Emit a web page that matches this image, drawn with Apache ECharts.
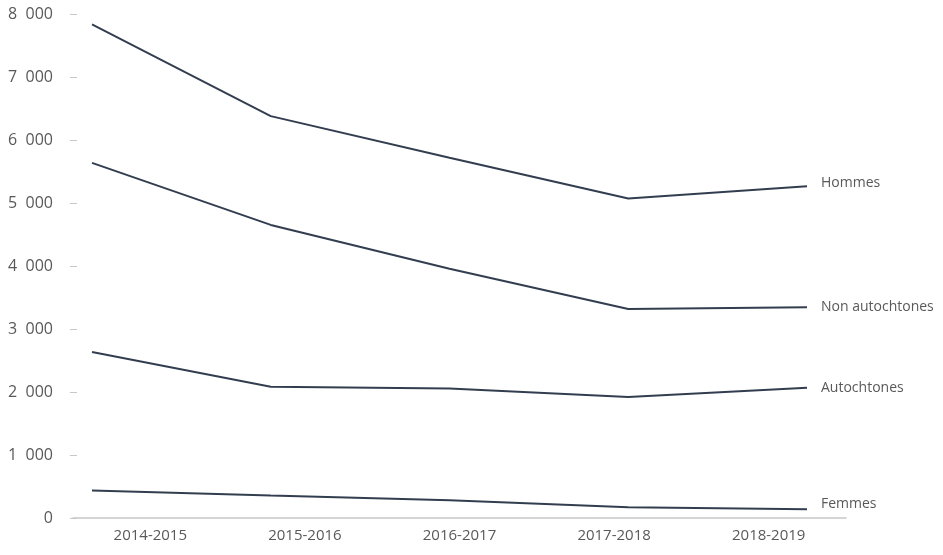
<!DOCTYPE html>
<html>
<head>
<meta charset="UTF-8">
<title></title>
<script type="text/javascript" src="https://cdn.jsdelivr.net/npm/echarts@6/dist/echarts.min.js"></script>
<style type="text/css">
html, body {
	margin: 0;
	padding: 0;
	background: #fff;
}
#main {
	width: 943px;
	height: 555px;
}
</style>
</head>
<body>
	<div id="main"></div>
	<script>
	// donnees
	var annees = ['2014-2015', '2015-2016', '2016-2017', '2017-2018', '2018-2019'];
	var hommes = [7836, 6379, 5718, 5071, 5267];
	var nonAutochtones = [5637, 4652, 3956, 3317, 3344];
	var autochtones = [2634, 2085, 2057, 1919, 2069];
	var femmes = [437, 357, 283, 172, 140];

	var couleurLigne = '#323e4f';
	var couleurTexte = '#595959';

	var chart = echarts.init(document.getElementById('main'));

	function serie(nom, data, decal) {
		return {
			name: nom,
			type: 'line',
			xAxisIndex: 1,
			yAxisIndex: 1,
			data: data,
			symbol: 'none',
			silent: true,
			lineStyle: { color: couleurLigne, width: 2 },
			endLabel: {
				show: true,
				formatter: nom,
				distance: 14,
				offset: [0, decal],
				color: couleurTexte,
				fontSize: 14,
				fontFamily: 'Open Sans'
			}
		};
	}

	var option = {
		animation: false,
		backgroundColor: '#fff',
		grid: [
			{ left: 73, right: 97, top: 14, bottom: 37 },
			{ left: 92, right: 136, top: 14, bottom: 37 }
		],
		xAxis: [
			{
				type: 'category',
				gridIndex: 0,
				data: annees,
				boundaryGap: true,
				axisLine: { lineStyle: { color: '#c8c8c8', width: 1.5 } },
				axisTick: { length: 4, lineStyle: { color: '#c8c8c8', width: 1.5 } },
				axisLabel: {
					color: couleurTexte,
					fontSize: 15,
					fontFamily: 'Open Sans',
					margin: 10
				}
			},
			{
				type: 'category',
				gridIndex: 1,
				data: annees,
				boundaryGap: false,
				show: false
			}
		],
		yAxis: [
			{
				type: 'value',
				gridIndex: 0,
				min: 0,
				max: 8000,
				interval: 1000,
				offset: -4,
				splitLine: { show: false },
				axisLine: { show: false },
				axisTick: { show: true, length: 7, lineStyle: { color: '#c8c8c8', width: 1 } },
				axisLabel: {
					color: couleurTexte,
					fontSize: 16,
					fontFamily: 'Open Sans',
					margin: 24,
					formatter: function (v) {
						if (v < 1000) return String(v);
						var s = String(v);
						return s.slice(0, s.length - 3) + '  ' + s.slice(s.length - 3);
					}
				}
			},
			{
				type: 'value',
				gridIndex: 1,
				min: 0,
				max: 8000,
				show: false
			}
		],
		series: [
			serie('Hommes', hommes, -3),
			serie('Non autochtones', nonAutochtones, 0),
			serie('Autochtones', autochtones, 0),
			serie('Femmes', femmes, -5)
		]
	};
	chart.setOption(option);
	</script>
</body>
</html>
